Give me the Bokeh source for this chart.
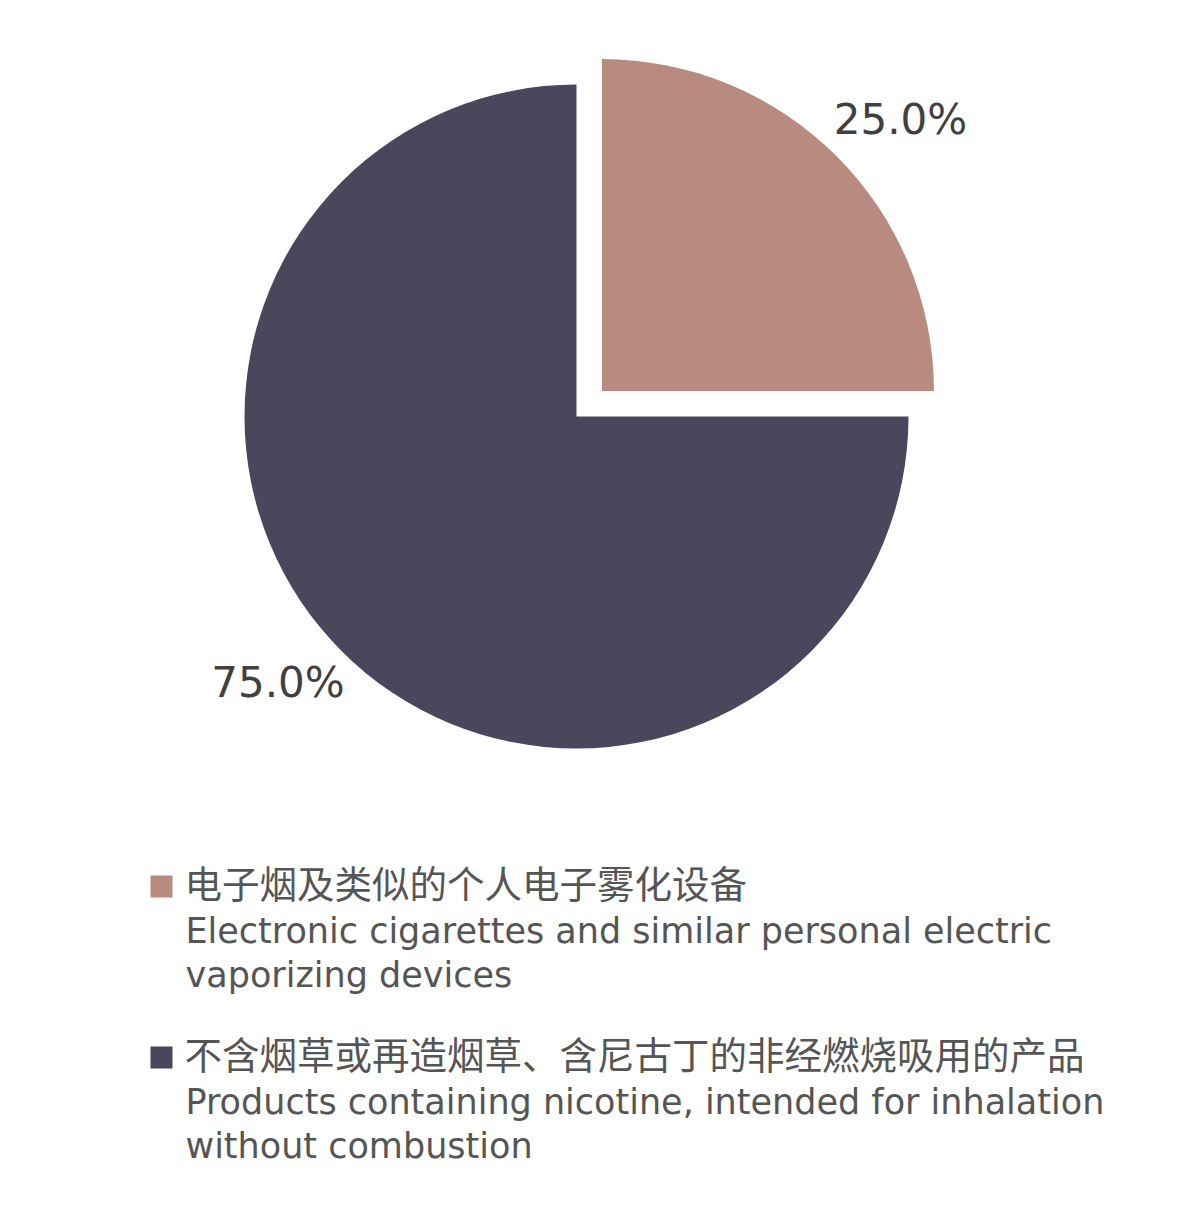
import math
from bokeh.plotting import figure
from bokeh.models import Range1d, ColumnDataSource
from bokeh.core.properties import value
from bokeh.embed import file_html
from bokeh.resources import INLINE

# data
labels_cn = ["电子烟及类似的个人电子雾化设备",
             "不含烟草或再造烟草、含尼古丁的非经燃烧吸用的产品"]
labels_en = [["Electronic cigarettes and similar personal electric", "vaporizing devices"],
             ["Products containing nicotine, intended for inhalation", "without combustion"]]
shares = [25.0, 75.0]
explode = [36, 0]
colors = ["#B98A80", "#4A475C"]

W, H = 1184, 1211
p = figure(width=W, height=H, x_range=Range1d(0, W), y_range=Range1d(0, H),
           x_axis_type=None, y_axis_type=None, toolbar_location=None,
           output_backend="svg", min_border=0, outline_line_color=None)
p.grid.visible = False

cx, cy, R = 576, 795, 332
total = sum(shares)
cum = 0.0
starts, ends, xs, ys, lx, ly, ltxt = [], [], [], [], [], [], []
for s, e in zip(shares, explode):
    a_end = math.pi / 2 - cum / total * 2 * math.pi
    cum += s
    a_start = math.pi / 2 - cum / total * 2 * math.pi
    mid = (a_start + a_end) / 2
    ox, oy = cx + e * math.cos(mid), cy + e * math.sin(mid)
    starts.append(a_start)
    ends.append(a_end)
    xs.append(ox)
    ys.append(oy)
    la = mid - math.radians(3)
    lx.append(ox + 1.21 * R * math.cos(la))
    ly.append(oy + 1.21 * R * math.sin(la) + 3)
    ltxt.append("%.1f%%" % (s / total * 100))

src = ColumnDataSource(dict(x=xs, y=ys, start=starts, end=ends, color=colors))
p.wedge(x="x", y="y", radius=R, start_angle="start", end_angle="end",
        fill_color="color", line_color=None, source=src)

p.text(x=lx, y=ly, text=ltxt, text_font=value("DejaVu Sans"),
       text_font_size="42px", text_color="#404040",
       text_align="center", text_baseline="middle")

# legend
leg_x, leg_y = 161, 327
for i, (cn, en) in enumerate(zip(labels_cn, labels_en)):
    y0 = leg_y - i * 171
    p.scatter(x=[leg_x], y=[y0 - 2], marker="square", size=22,
              fill_color=colors[i], line_color=None)
    p.text(x=[leg_x + 23], y=[y0 + 3], text=[cn], text_font=value("Noto Sans CJK SC"),
           text_font_size="37.5px", text_color="#555555",
           text_align="left", text_baseline="middle")
    p.text(x=[leg_x + 24] * len(en), y=[y0 - 46 - 44 * k for k in range(len(en))],
           text=en, text_font=value("DejaVu Sans"),
           text_font_size="35px", text_color="#555555",
           text_align="left", text_baseline="middle")

open("out.html", "w").write(file_html(p, INLINE))
